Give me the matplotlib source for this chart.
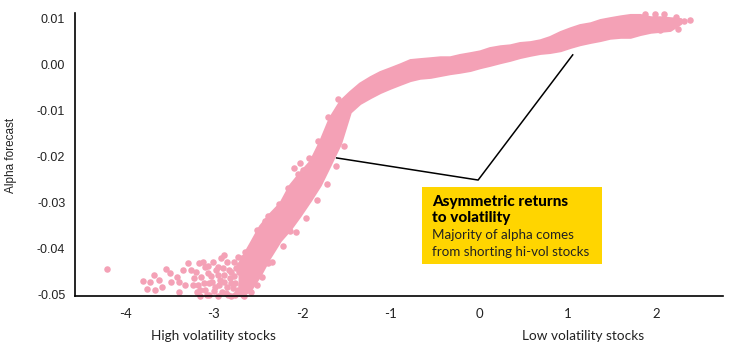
import numpy as np
import matplotlib
matplotlib.use("Agg")
import matplotlib.pyplot as plt
from matplotlib.patches import Rectangle

# dense band of the scatter: x, lower and upper edge of the point cloud
band_x = [-2.71, -2.59, -2.48, -2.37, -2.25, -2.14, -2.03, -1.91, -1.80, -1.69, -1.57,
          -1.46, -1.35, -1.23, -1.12, -1.01, -0.89, -0.78, -0.67, -0.55, -0.44,
          -0.33, -0.22, -0.10, 0.01, 0.12, 0.24, 0.35, 0.46, 0.58, 0.69,
          0.80, 0.92, 1.03, 1.14, 1.26, 1.37, 1.48, 1.60, 1.71, 1.82,
          1.94, 2.05, 2.16, 2.28]
band_lo = [-0.0504, -0.0491, -0.0459, -0.0420, -0.0383, -0.0359, -0.0330, -0.0296, -0.0263, -0.0220, -0.0172,
           -0.0104, -0.0085, -0.0072, -0.0061, -0.0052, -0.0043, -0.0035, -0.0030, -0.0028, -0.0024,
           -0.0020, -0.0017, -0.0013, -0.0007, -0.0002, 0.0004, 0.0009, 0.0015, 0.0020, 0.0024,
           0.0026, 0.0030, 0.0037, 0.0043, 0.0048, 0.0052, 0.0057, 0.0059, 0.0059, 0.0065,
           0.0070, 0.0072, 0.0074, 0.0089]
band_hi = [-0.0430, -0.0390, -0.0352, -0.0326, -0.0302, -0.0263, -0.0237, -0.0211, -0.0168, -0.0117, -0.0080,
           -0.0060, -0.0042, -0.0028, -0.0017, -0.0009, 0.0000, 0.0009, 0.0011, 0.0013, 0.0015,
           0.0015, 0.0020, 0.0024, 0.0028, 0.0035, 0.0039, 0.0041, 0.0046, 0.0048, 0.0052,
           0.0059, 0.0070, 0.0078, 0.0085, 0.0089, 0.0096, 0.0100, 0.0104, 0.0107, 0.0107,
           0.0102, 0.0102, 0.0100, 0.0098]

# sparse points (high volatility tail, ragged edges and outliers)
pts_x = [-4.21, -3.80, -3.76, -3.72, -3.68, -3.66, -3.62, -3.59, -3.54, -3.50,
         -3.48, -3.42, -3.39, -3.39, -3.35, -3.33, -3.29, -3.26, -3.24, -3.22,
         -3.20, -3.19, -3.18, -3.17, -3.16, -3.16, -3.14, -3.12, -3.11, -3.10,
         -3.10, -3.08, -3.07, -3.06, -3.05, -3.05, -3.03, -3.02, -3.01, -3.00,
         -2.99, -2.98, -2.95, -2.95, -2.95, -2.94, -2.93, -2.92, -2.91, -2.90,
         -2.89, -2.88, -2.88, -2.86, -2.85, -2.85, -2.84, -2.83, -2.82, -2.81,
         -2.81, -2.80, -2.78, -2.77, -2.77, -2.76, -2.76, -2.75, -2.74, -2.73,
         -2.73, -2.72, -2.71, -2.69, -2.68, -2.67, -2.67, -2.66, -2.66, -2.65,
         -2.64, -2.63, -2.62, -2.60, -2.59, -2.58, -2.57, -2.56, -2.54, -2.52,
         -2.51, -2.51, -2.50, -2.46, -2.42, -2.39, -2.39, -2.34, -2.26, -2.22,
         -2.16, -2.14, -2.09, -2.07, -2.05, -2.03, -1.99, -1.96, -1.92, -1.83,
         -1.82, -1.72, -1.71, -1.62, -1.60, -1.53,
         1.88, 1.99, 2.05, 2.09, 2.14, 2.18, 2.23, 2.25, 2.32, 2.39]
pts_y = [-0.0446, -0.0472, -0.0489, -0.0474, -0.0459, -0.0491, -0.0470, -0.0485, -0.0446, -0.0454,
         -0.0474, -0.0463, -0.0474, -0.0496, -0.0448, -0.0480, -0.0433, -0.0448, -0.0480, -0.0465,
         -0.0452, -0.0496, -0.0480, -0.0433, -0.0491, -0.0504, -0.0463, -0.0430, -0.0476, -0.0441,
         -0.0491, -0.0502, -0.0454, -0.0439, -0.0476, -0.0502, -0.0461, -0.0474, -0.0430, -0.0493,
         -0.0485, -0.0448, -0.0441, -0.0459, -0.0504, -0.0480, -0.0470, -0.0422, -0.0496, -0.0443,
         -0.0474, -0.0415, -0.0459, -0.0498, -0.0430, -0.0485, -0.0502, -0.0448, -0.0465, -0.0476,
         -0.0504, -0.0452, -0.0487, -0.0430, -0.0461, -0.0476, -0.0502, -0.0443, -0.0498, -0.0420,
         -0.0491, -0.0452, -0.0437, -0.0480, -0.0422, -0.0463, -0.0502, -0.0443, -0.0504, -0.0409,
         -0.0474, -0.0491, -0.0430, -0.0448, -0.0470, -0.0496, -0.0400, -0.0430, -0.0459, -0.0393,
         -0.0480, -0.0361, -0.0409, -0.0463, -0.0341, -0.0433, -0.0330, -0.0430, -0.0304, -0.0396,
         -0.0270, -0.0363, -0.0226, -0.0365, -0.0239, -0.0215, -0.0230, -0.0335, -0.0204, -0.0296,
         -0.0167, -0.0261, -0.0115, -0.0222, -0.0076, -0.0178,
         0.0109, 0.0109, 0.0074, 0.0109, 0.0078, 0.0091, 0.0102, 0.0076, 0.0093, 0.0096]

x_ticks = [-4, -3, -2, -1, 0, 1, 2]
y_ticks = [0.01, 0.00, -0.01, -0.02, -0.03, -0.04, -0.05]
y_labels = ["0.01", "0.00", "-0.01", "-0.02", "-0.03", "-0.04", "-0.05"]

# callout line: from the steep part, down to the box, up to the flat part
callout_x = [-1.61, -0.01, 1.06]
callout_y = [-0.0204, -0.0252, 0.0020]

pink = "#F4A1B6"
W, H = 740, 361


def fx(px):
    return px / W


def fy(py):
    return 1 - py / H


fig = plt.figure(figsize=(7.4, 3.61), dpi=100)
ax = fig.add_axes([fx(75), fy(296), fx(723) - fx(75), fy(13) - fy(296)])

ax.fill_between(band_x, band_lo, band_hi, color=pink, linewidth=2, edgecolor=pink, zorder=2)
ax.scatter(pts_x, pts_y, s=22, color=pink, linewidths=0, zorder=2, clip_on=False)

ax.plot(callout_x, callout_y, color="black", lw=1.1, zorder=3)

# yellow box
ax.add_patch(Rectangle((-0.645, -0.0435), 2.035, 0.0168, facecolor="#FFD500", edgecolor="none", zorder=3))

ax.set_xlim(-4.57, 2.76)
ax.set_ylim(-0.0504, 0.0111)
ax.set_xticks(x_ticks)
ax.set_xticklabels([str(t) for t in x_ticks], fontfamily="Lato", fontsize=9.5, color="#222222")
ax.set_yticks(y_ticks)
ax.set_yticklabels(y_labels, fontfamily="Liberation Sans", fontsize=9, color="#222222")
ax.tick_params(axis="both", length=0)
ax.tick_params(axis="y", pad=7)
ax.tick_params(axis="x", pad=9)

for s in ["top", "right"]:
    ax.spines[s].set_visible(False)
for s in ["left", "bottom"]:
    ax.spines[s].set_linewidth(1.2)
    ax.spines[s].set_color("black")

fig.text(fx(11), fy(155), "Alpha forecast", rotation=90, ha="center", va="center",
         fontsize=8.5, fontfamily="Liberation Sans", color="#222222")
fig.text(fx(213), fy(336), "High volatility stocks", ha="center", va="center",
         fontsize=9.8, fontfamily="Lato", color="#222222")
fig.text(fx(583), fy(336), "Low volatility stocks", ha="center", va="center",
         fontsize=9.8, fontfamily="Lato", color="#222222")

fig.text(fx(432), fy(202), "Asymmetric returns", ha="left", va="center",
         fontsize=11, fontfamily="Lato", fontweight="black", color="black", zorder=5)
fig.text(fx(432), fy(218), "to volatility", ha="left", va="center",
         fontsize=11, fontfamily="Lato", fontweight="black", color="black", zorder=5)
fig.text(fx(432), fy(235), "Majority of alpha comes", ha="left", va="center",
         fontsize=9.6, fontfamily="Lato", color="#222222", zorder=5)
fig.text(fx(432), fy(252), "from shorting hi-vol stocks", ha="left", va="center",
         fontsize=9.6, fontfamily="Lato", color="#222222", zorder=5)

fig.savefig("out.png", dpi=100)
